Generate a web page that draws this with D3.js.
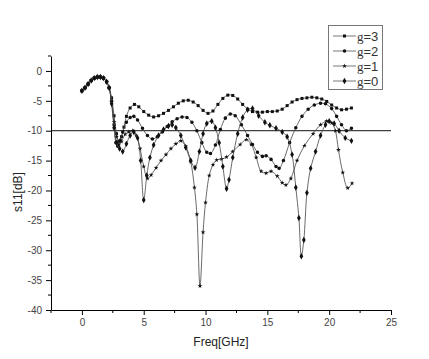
<!DOCTYPE html>
<html>
  <head>
    <meta charset="UTF-8" />
    <title>s11 vs Freq</title>
    <script src="https://d3js.org/d3.v7.min.js"></script>
    <style>
      body {
        margin: 0;
        background-color: #fff;
      }
      svg {
        display: block;
      }
      .tick text {
        font-family: Arial, "Liberation Sans", sans-serif;
        font-size: 10px;
        fill: #444;
      }
    </style>
  </head>
  <body>
    <div id="chart"></div>
    <script>
      // series values
      const freq3 = [0, 0.25, 0.5, 0.75, 1.0, 1.25, 1.5, 1.75, 2.0, 2.2, 2.4, 2.6, 2.8, 3.0, 3.2, 3.4, 3.6, 3.9, 4.25, 4.6, 5.0, 5.4, 5.8, 6.2, 6.6, 7.0, 7.4, 7.8, 8.2, 8.6, 9.0, 9.4, 9.8, 10.2, 10.6, 11.0, 11.4, 11.8, 12.2, 12.6, 13.0, 13.4, 13.8, 14.2, 14.6, 15.0, 15.4, 15.8, 16.2, 16.6, 17.0, 17.4, 17.8, 18.2, 18.6, 19.0, 19.4, 19.8, 20.2, 20.6, 21.0, 21.4, 21.8];
      const s11_3 = [-3.3, -2.8, -2.2, -1.6, -1.2, -1.0, -1.0, -1.2, -1.8, -2.8, -4.5, -7.5, -10.5, -11.8, -11.0, -9.4, -7.6, -6.2, -5.6, -6.0, -6.8, -7.4, -7.7, -7.5, -7.1, -6.6, -6.0, -5.4, -5.0, -4.9, -5.2, -5.8, -6.6, -7.1, -6.7, -5.6, -4.6, -4.05, -4.1, -4.7, -5.6, -6.4, -6.8, -6.9, -6.9, -6.8, -6.8, -6.7, -6.4, -5.8, -5.2, -4.8, -4.6, -4.5, -4.4, -4.5, -4.7, -5.1, -5.7, -6.2, -6.5, -6.4, -6.2];

      const freq2 = [0, 0.25, 0.5, 0.75, 1.0, 1.25, 1.5, 1.75, 2.0, 2.2, 2.4, 2.6, 2.75, 2.9, 3.1, 3.3, 3.6, 3.9, 4.2, 4.5, 4.9, 5.3, 5.7, 6.1, 6.5, 6.9, 7.3, 7.7, 8.1, 8.5, 8.9, 9.3, 9.7, 10.1, 10.4, 10.8, 11.2, 11.6, 12.0, 12.4, 12.9, 13.4, 13.8, 14.2, 14.6, 14.9, 15.3, 15.7, 15.95, 16.3, 16.8, 17.3, 17.8, 18.3, 18.8, 19.3, 19.7, 20.2, 20.6, 21.0, 21.4, 21.8];
      const s11_2 = [-3.3, -2.8, -2.2, -1.6, -1.2, -1.0, -1.0, -1.2, -1.8, -2.8, -5.0, -9.0, -12.0, -12.6, -11.6, -10.2, -8.6, -7.8, -7.6, -8.2, -9.6, -10.8, -11.4, -11.0, -10.2, -9.3, -8.5, -8.0, -7.7, -7.8, -8.6, -10.0, -12.0, -13.6, -13.8, -12.4, -9.8, -7.9, -7.2, -7.5, -9.0, -10.8, -12.3, -13.6, -14.3, -14.2, -14.8, -16.0, -16.3, -15.0, -12.0, -9.5, -7.6, -6.4, -5.7, -5.4, -5.5, -6.3, -7.6, -9.0, -10.0, -9.6];

      const freq1 = [0, 0.25, 0.5, 0.75, 1.0, 1.25, 1.5, 1.75, 2.0, 2.2, 2.4, 2.6, 2.8, 3.0, 3.2, 3.5, 3.8, 4.1, 4.4, 4.7, 5.0, 5.3, 5.6, 6.0, 6.4, 6.8, 7.2, 7.6, 8.0, 8.4, 8.8, 9.1, 9.3, 9.55, 9.8, 10.0, 10.3, 10.6, 10.9, 11.3, 11.7, 12.2, 12.8, 13.3, 13.7, 14.1, 14.5, 14.9, 15.3, 15.8, 16.2, 16.5, 16.9, 17.4, 18.0, 18.7, 19.3, 19.8, 20.2, 20.5, 20.75, 21.1, 21.5, 21.85];
      const s11_1 = [-3.3, -2.8, -2.2, -1.6, -1.2, -1.0, -1.0, -1.2, -1.8, -2.8, -5.2, -8.5, -11.0, -12.3, -11.8, -10.6, -10.2, -10.0, -10.8, -13.0, -16.0, -18.0, -17.4, -16.2, -15.0, -14.0, -13.0, -12.2, -11.7, -12.6, -15.2, -19.5, -24.0, -36.0, -27.0, -22.0, -17.5, -15.7, -14.9, -14.75, -14.4, -13.5, -12.3, -11.5, -12.3, -14.5, -16.8, -17.1, -16.8, -17.6, -18.7, -19.1, -18.0, -15.0, -12.5, -10.5, -9.0, -8.4, -8.7, -10.0, -13.2, -17.0, -19.6, -18.8];

      const freq0 = [0, 0.25, 0.5, 0.75, 1.0, 1.25, 1.5, 1.75, 2.0, 2.2, 2.4, 2.6, 2.8, 3.05, 3.3, 3.6, 3.9, 4.2, 4.5, 4.75, 5.0, 5.25, 5.5, 5.8, 6.2, 6.6, 7.0, 7.3, 7.6, 8.0, 8.4, 8.8, 9.15, 9.5, 9.8, 10.1, 10.5, 10.8, 11.1, 11.4, 11.7, 11.9, 12.2, 12.6, 13.0, 13.4, 13.8, 14.3, 14.8, 15.2, 15.7, 16.2, 16.6, 17.0, 17.3, 17.55, 17.75, 17.95, 18.2, 18.5, 18.9, 19.3, 19.7, 20.0, 20.4, 20.8, 21.3, 21.8];
      const s11_0 = [-3.3, -2.8, -2.2, -1.6, -1.2, -1.0, -1.0, -1.2, -1.8, -2.8, -5.5, -9.5, -12.0, -13.0, -13.5, -12.2, -10.8, -10.2, -11.2, -15.0, -21.6, -17.5, -14.5, -12.4, -10.8, -9.8, -9.2, -9.0, -9.5, -10.8, -12.8, -15.0, -16.2, -13.5, -10.5, -8.8, -8.4, -9.5, -12.0, -16.0, -19.7, -18.2, -14.5, -10.5, -7.8, -6.5, -6.3, -7.5, -8.6, -9.1, -9.6, -10.2, -11.0, -14.0, -19.5, -24.6, -31.0, -28.3, -20.4, -16.3, -13.5, -10.8, -9.0, -8.4, -8.8, -10.0, -11.2, -11.7];

      const seriesNames = ["g=3", "g=2", "g=1", "g=0"];
      const xTicks = [0, 5, 10, 15, 20, 25];
      const yTicks = [0, -5, -10, -15, -20, -25, -30, -35, -40];
      const refLevel = -10;

      const width = 429;
      const height = 359;
      const margin = { left: 51, right: 38, top: 56, bottom: 49 };

      const series = [
        { name: seriesNames[0], x: freq3, y: s11_3, symbol: d3.symbolSquare, size: 9 },
        { name: seriesNames[1], x: freq2, y: s11_2, symbol: d3.symbolCircle, size: 10 },
        { name: seriesNames[2], x: freq1, y: s11_1, symbol: d3.symbolStar, size: 7 },
        { name: seriesNames[3], x: freq0, y: s11_0, symbol: d3.symbolDiamond, size: 12 },
      ];

      const svg = d3
        .select("#chart")
        .append("svg")
        .attr("width", width)
        .attr("height", height);

      const x = d3
        .scaleLinear()
        .domain([-2.5, 25])
        .range([margin.left, width - margin.right]);
      const y = d3
        .scaleLinear()
        .domain([2.5, -40])
        .range([margin.top, height - margin.bottom]);

      // axes with minor ticks
      const xAxis = svg
        .append("g")
        .attr("transform", `translate(0,${y(-40)})`)
        .call(
          d3.axisBottom(x).tickValues(xTicks).tickSize(5).tickSizeOuter(0).tickPadding(4).tickFormat((d) => String(d))
        );
      xAxis
        .append("g")
        .selectAll("line")
        .data([-2.5, 2.5, 7.5, 12.5, 17.5, 22.5])
        .enter()
        .append("line")
        .attr("x1", (d) => x(d))
        .attr("x2", (d) => x(d))
        .attr("y1", 0)
        .attr("y2", 3)
        .attr("stroke", "#000");

      const yAxis = svg
        .append("g")
        .attr("transform", `translate(${x(-2.5)},0)`)
        .call(
          d3.axisLeft(y).tickValues(yTicks).tickSize(5).tickSizeOuter(0).tickPadding(4).tickFormat((d) => String(d))
        );
      yAxis
        .append("g")
        .selectAll("line")
        .data([2.5, -2.5, -7.5, -12.5, -17.5, -22.5, -27.5, -32.5, -37.5])
        .enter()
        .append("line")
        .attr("x1", 0)
        .attr("x2", -3)
        .attr("y1", (d) => y(d))
        .attr("y2", (d) => y(d))
        .attr("stroke", "#000");

      svg.selectAll(".domain").attr("stroke", "#000");

      // axis titles
      svg
        .append("text")
        .attr("x", 221)
        .attr("y", 346)
        .attr("text-anchor", "middle")
        .style("font-family", "Arial, sans-serif")
        .style("font-size", "12px")
        .attr("fill", "#222")
        .text("Freq[GHz]");

      svg
        .append("text")
        .attr("transform", "translate(22,192) rotate(-90)")
        .attr("text-anchor", "middle")
        .style("font-family", "Arial, sans-serif")
        .style("font-size", "12px")
        .attr("fill", "#222")
        .text("s11[dB]");

      // -10 dB reference line
      svg
        .append("line")
        .attr("x1", x(-2.5))
        .attr("x2", x(25))
        .attr("y1", y(refLevel))
        .attr("y2", y(refLevel))
        .attr("stroke", "#111")
        .attr("stroke-width", 1);

      const line = d3
        .line()
        .x((d) => x(d[0]))
        .y((d) => y(d[1]))
        .curve(d3.curveCatmullRom.alpha(0.5));

      series.forEach((s) => {
        const pts = s.x.map((v, i) => [v, s.y[i]]);
        svg
          .append("path")
          .datum(pts)
          .attr("fill", "none")
          .attr("stroke", "#444")
          .attr("stroke-width", 0.8)
          .attr("d", line);
        svg
          .append("g")
          .selectAll("path")
          .data(pts)
          .enter()
          .append("path")
          .attr("transform", (d) => `translate(${x(d[0])},${y(d[1])})`)
          .attr("d", d3.symbol().type(s.symbol).size(s.size))
          .attr("fill", "#111");
      });

      // legend
      const legend = svg.append("g");
      legend
        .append("rect")
        .attr("x", 328.5)
        .attr("y", 25.5)
        .attr("width", 54)
        .attr("height", 64)
        .attr("fill", "#fff")
        .attr("stroke", "#777")
        .attr("stroke-width", 1);

      series.forEach((s, i) => {
        const ly = 36 + i * 15;
        legend
          .append("line")
          .attr("x1", 333)
          .attr("x2", 356)
          .attr("y1", ly)
          .attr("y2", ly)
          .attr("stroke", "#555")
          .attr("stroke-width", 0.8);
        legend
          .append("path")
          .attr("transform", `translate(344.5,${ly})`)
          .attr("d", d3.symbol().type(s.symbol).size(s.size))
          .attr("fill", "#111");
        const t = legend
          .append("text")
          .attr("x", 357)
          .attr("y", ly + 4.5)
          .style("font-size", "13px")
          .attr("fill", "#333");
        t.append("tspan").style("font-family", "'Liberation Serif', serif").text("g");
        t.append("tspan").style("font-family", "Arial, sans-serif").text(s.name.slice(1));
      });
    </script>
  </body>
</html>
